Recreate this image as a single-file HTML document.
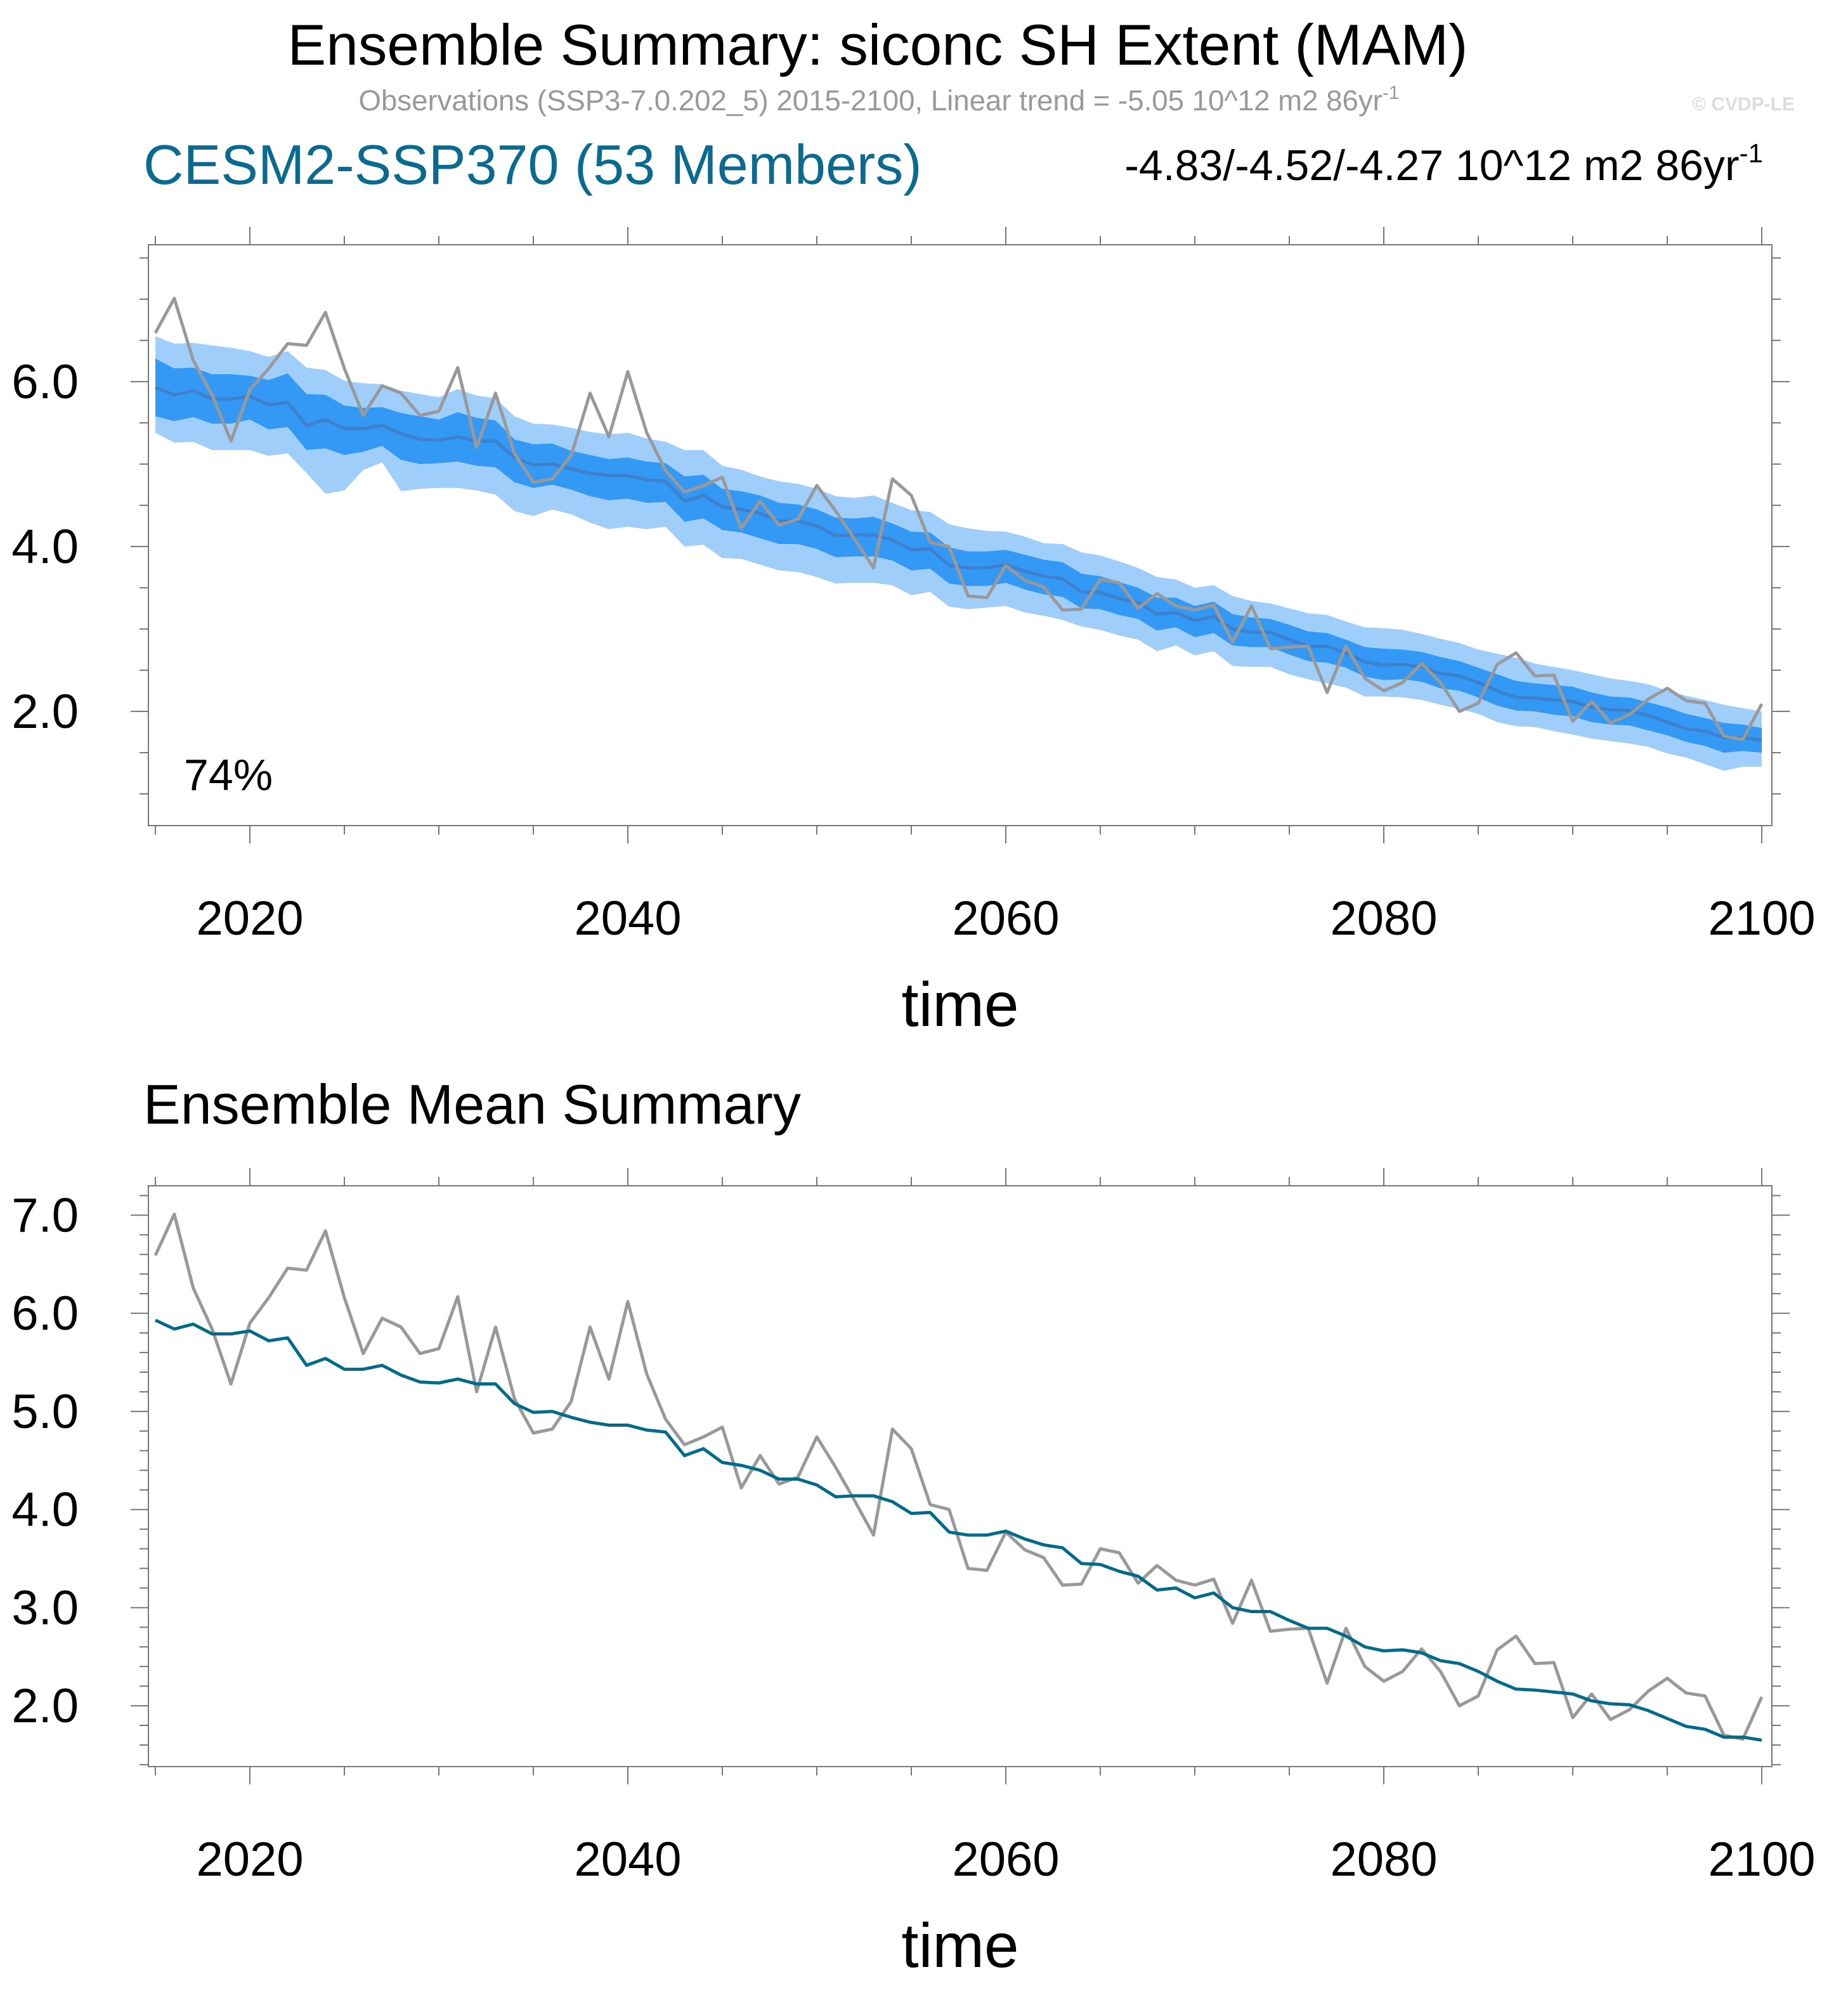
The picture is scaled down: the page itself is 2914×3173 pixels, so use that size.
<!DOCTYPE html>
<html><head><meta charset="utf-8"><style>
html,body{margin:0;padding:0;background:#fff;}
svg{display:block;font-family:"Liberation Sans",sans-serif;}
</style></head><body>
<svg id="chart" width="2914" height="3173" viewBox="0 0 1457 1586.5" xmlns="http://www.w3.org/2000/svg">
<rect width="1457" height="1586.5" fill="#fff"/>
<text x="692" y="51" font-size="45.5" text-anchor="middle" fill="#000">Ensemble Summary: siconc SH Extent (MAM)</text>
<text x="693" y="87" font-size="22.8" text-anchor="middle" fill="#999">Observations (SSP3-7.0.202_5) 2015-2100, Linear trend = -5.05 10^12 m2 86yr<tspan font-size="15" dy="-9">-1</tspan></text>
<text x="1415" y="87" font-size="15" font-weight="bold" text-anchor="end" fill="#ddd">© CVDP-LE</text>
<text x="113" y="145" font-size="44" fill="#0a6a8f">CESM2-SSP370 (53 Members)</text>
<text x="1390" y="142" font-size="34" text-anchor="end" fill="#000">-4.83/-4.52/-4.27 10^12 m2 86yr<tspan font-size="21" dy="-14">-1</tspan></text>
<text x="145" y="623" font-size="35" fill="#000">74%</text>
<text x="113" y="886" font-size="44" fill="#000">Ensemble Mean Summary</text>
<g id="top"></g><g id="bot"></g>
</svg>
<script>
const years=[];for(let y=2015;y<=2100;y++)years.push(y);
const obs=[6.59,7.01,6.26,5.84,5.28,5.90,6.16,6.46,6.44,6.84,6.16,5.59,5.95,5.86,5.59,5.64,6.17,5.20,5.86,5.13,4.78,4.82,5.10,5.86,5.33,6.12,5.38,4.92,4.66,4.74,4.84,4.22,4.55,4.26,4.33,4.74,4.43,4.09,3.74,4.82,4.62,4.05,4.00,3.40,3.38,3.77,3.59,3.51,3.23,3.24,3.60,3.56,3.25,3.43,3.28,3.23,3.29,2.84,3.28,2.76,2.78,2.79,2.23,2.79,2.40,2.25,2.35,2.58,2.35,2.00,2.10,2.57,2.71,2.43,2.44,1.88,2.12,1.86,1.96,2.15,2.28,2.13,2.10,1.70,1.66,2.09];
const ensMean=[5.93,5.84,5.89,5.79,5.79,5.82,5.72,5.75,5.47,5.54,5.43,5.43,5.47,5.37,5.30,5.29,5.33,5.28,5.28,5.08,4.99,5.00,4.94,4.89,4.86,4.86,4.81,4.79,4.55,4.62,4.48,4.45,4.40,4.31,4.31,4.25,4.13,4.14,4.14,4.08,3.96,3.97,3.77,3.74,3.74,3.78,3.70,3.64,3.61,3.45,3.44,3.37,3.32,3.18,3.20,3.10,3.15,3.00,2.96,2.96,2.87,2.79,2.79,2.71,2.60,2.56,2.57,2.54,2.46,2.43,2.35,2.25,2.17,2.16,2.14,2.12,2.05,2.02,2.01,1.95,1.87,1.79,1.76,1.68,1.68,1.65];
const lightUp=[0.62,0.62,0.58,0.65,0.62,0.55,0.58,0.62,0.70,0.60,0.58,0.55,0.50,0.52,0.55,0.52,0.58,0.55,0.52,0.50,0.50,0.48,0.50,0.50,0.50,0.52,0.50,0.48,0.62,0.55,0.50,0.48,0.45,0.48,0.45,0.45,0.48,0.45,0.48,0.45,0.48,0.45,0.50,0.48,0.45,0.40,0.42,0.40,0.42,0.48,0.45,0.45,0.42,0.45,0.40,0.40,0.38,0.40,0.38,0.35,0.38,0.40,0.38,0.38,0.42,0.45,0.42,0.40,0.42,0.40,0.40,0.45,0.48,0.42,0.40,0.38,0.40,0.38,0.36,0.38,0.38,0.40,0.38,0.40,0.36,0.35];
const lightDn=[0.55,0.58,0.62,0.62,0.62,0.65,0.62,0.62,0.58,0.90,0.75,0.50,0.45,0.70,0.60,0.58,0.62,0.60,0.65,0.65,0.62,0.55,0.55,0.60,0.65,0.62,0.60,0.55,0.55,0.60,0.62,0.60,0.62,0.60,0.62,0.62,0.58,0.58,0.58,0.55,0.55,0.52,0.50,0.50,0.48,0.50,0.50,0.48,0.50,0.42,0.45,0.45,0.45,0.45,0.40,0.42,0.42,0.45,0.42,0.42,0.42,0.40,0.45,0.42,0.42,0.38,0.40,0.40,0.38,0.40,0.38,0.38,0.35,0.35,0.38,0.40,0.38,0.38,0.40,0.38,0.38,0.35,0.40,0.40,0.35,0.32];
const darkUp=[0.35,0.32,0.28,0.30,0.30,0.25,0.30,0.35,0.38,0.30,0.28,0.25,0.22,0.25,0.28,0.25,0.30,0.28,0.25,0.22,0.25,0.25,0.22,0.22,0.20,0.22,0.22,0.22,0.30,0.25,0.22,0.22,0.22,0.22,0.20,0.20,0.22,0.20,0.22,0.20,0.22,0.20,0.22,0.20,0.20,0.18,0.20,0.20,0.20,0.22,0.20,0.20,0.18,0.20,0.18,0.18,0.18,0.18,0.18,0.16,0.18,0.18,0.16,0.16,0.18,0.20,0.18,0.18,0.20,0.18,0.18,0.20,0.20,0.18,0.18,0.18,0.18,0.16,0.16,0.16,0.18,0.18,0.16,0.18,0.16,0.15];
const darkDn=[0.35,0.32,0.32,0.30,0.30,0.28,0.30,0.30,0.30,0.35,0.32,0.28,0.25,0.32,0.30,0.28,0.30,0.30,0.32,0.30,0.28,0.25,0.25,0.28,0.30,0.28,0.28,0.25,0.25,0.28,0.28,0.28,0.30,0.28,0.28,0.28,0.26,0.26,0.26,0.25,0.25,0.24,0.22,0.22,0.22,0.22,0.22,0.22,0.22,0.20,0.20,0.20,0.20,0.20,0.18,0.20,0.20,0.20,0.18,0.18,0.18,0.18,0.20,0.18,0.18,0.18,0.18,0.18,0.18,0.18,0.18,0.18,0.16,0.16,0.18,0.18,0.18,0.18,0.18,0.18,0.16,0.16,0.18,0.18,0.16,0.15];
const xTicks=[2020,2040,2060,2080,2100];
const topYTicks=[2.0,4.0,6.0];
const botYTicks=[2.0,3.0,4.0,5.0,6.0,7.0];

const NS="http://www.w3.org/2000/svg";
function mk(p,tag,attrs){const e=document.createElementNS(NS,tag);for(const k in attrs)e.setAttribute(k,attrs[k]);p.appendChild(e);return e;}
const X0=117,X1=1397;
const xs=y=>122.5+(y-2015)*(1389-122.5)/85;
function pts(ys,arr,off,sign){return arr.map((v,i)=>xs(years[i])+','+ys(v+(off?sign*off[i]:0)).toFixed(2));}
function band(g,ys,up,dn,color,name){
  const a=pts(ys,ensMean,up,1), b=pts(ys,ensMean,dn,-1).reverse();
  const p=mk(g,'polygon',{points:a.concat(b).join(' '),fill:color});
  
  
}
function line(g,ys,arr,color,w,name){
  const p=mk(g,'polyline',{points:pts(ys,arr).join(' '),fill:'none',stroke:color,'stroke-width':w,'stroke-linejoin':'round'});
  
  
}
function axes(g,top,bottom,ys,ymin,ymax,yTicks,minorStep,prefix){
  const fr=mk(g,'rect',{x:X0,y:top,width:X1-X0,height:bottom-top,fill:'none',stroke:'#777','stroke-width':1});
  
  
  for(let y=2015;y<=2100;y+=5){
    const maj=xTicks.includes(y), L=maj?14:7, x=xs(y);
    mk(g,'line',{x1:x,x2:x,y1:bottom,y2:bottom+L,stroke:'#777','stroke-width':1});
    mk(g,'line',{x1:x,x2:x,y1:top,y2:top-L,stroke:'#777','stroke-width':1});
  }
  xTicks.forEach(y=>{const t=mk(g,'text',{x:xs(y),y:bottom+86,'font-size':38,'text-anchor':'middle'});t.textContent=y;
    
    });
  const start=Math.ceil(ymin/minorStep-1e-6)*minorStep;
  for(let v=start;v<=ymax+1e-6;v+=minorStep){
    const maj=yTicks.some(t=>Math.abs(t-v)<1e-6),L=maj?14:7,y=ys(v);
    mk(g,'line',{x1:X0,x2:X0-L,y1:y,y2:y,stroke:'#777','stroke-width':1});
    mk(g,'line',{x1:X1,x2:X1+L,y1:y,y2:y,stroke:'#777','stroke-width':1});
  }
  yTicks.forEach(v=>{const t=mk(g,'text',{x:62,y:ys(v)+13,'font-size':38,'text-anchor':'end'});t.textContent=v.toFixed(1);
    
    });
  const tt=mk(g,'text',{x:757,y:bottom+158,'font-size':49,'text-anchor':'middle'});tt.textContent='time';
  
  
}
const gT=document.getElementById('top');


const tTop=193,tBot=651,tMin=0.615,tMax=7.66;
const ysT=v=>tBot-(v-tMin)/(tMax-tMin)*(tBot-tTop);
band(gT,ysT,lightUp,lightDn,'#9fcefa','outer-spread-band');
band(gT,ysT,darkUp,darkDn,'#3399f5','inner-spread-band');
line(gT,ysT,ensMean,'#3f80cc',2.5,'ensemble-mean-line-top');
line(gT,ysT,obs,'#999999',2.5,'observations-line-top');
axes(gT,tTop,tBot,ysT,tMin,tMax,topYTicks,0.5,'top');
const gB=document.getElementById('bot');


const bTop=935,bBot=1393,bMin=1.38,bMax=7.3;
const ysB=v=>bBot-(v-bMin)/(bMax-bMin)*(bBot-bTop);
line(gB,ysB,obs,'#999999',2.5,'observations-line-bottom');
line(gB,ysB,ensMean,'#006a8a',2.5,'ensemble-mean-line-bottom');
axes(gB,bTop,bBot,ysB,bMin,bMax,botYTicks,0.2,'bottom');
</script>
</body></html>
